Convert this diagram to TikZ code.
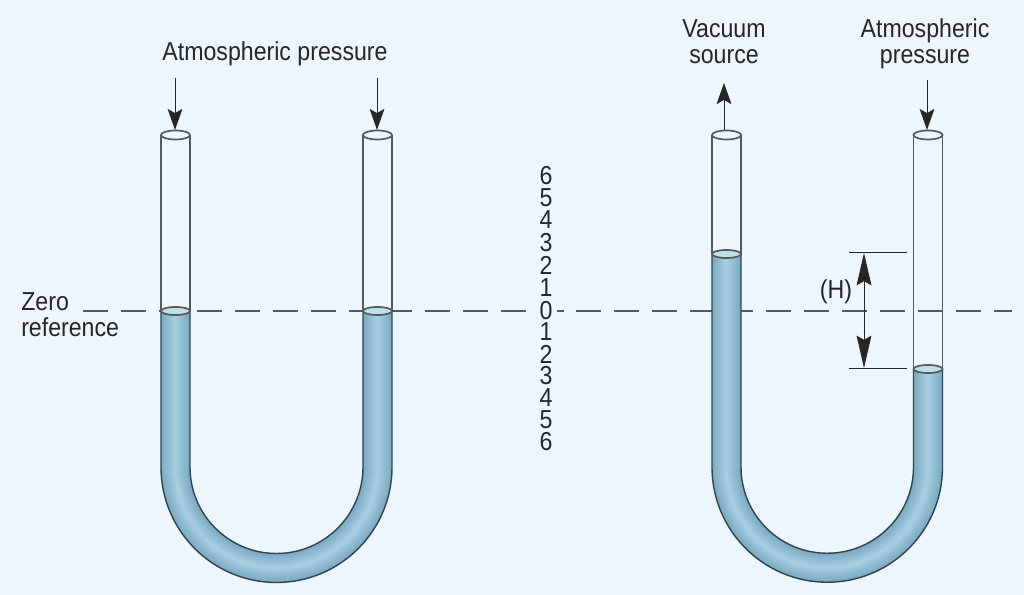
\documentclass[tikz,border=0pt]{standalone}
\usepackage{fontspec}
\setmainfont[FakeStretch=0.89]{Liberation Sans}
\usetikzlibrary{arrows.meta}
\definecolor{paper}{HTML}{EDF5FD}
\definecolor{glass}{HTML}{55595E}
\definecolor{liqedge}{HTML}{7BA9C2}
\definecolor{liqmid}{HTML}{A8D0E2}
\definecolor{liqtop}{HTML}{BFDFE8}
\tikzset{
  label/.style={font=\fontsize{18.5}{18.5}\selectfont,text=black!85,align=center,inner sep=0pt},
  digit/.style={font=\fontsize{18.5}{18.5}\selectfont,text=black!85,inner sep=0pt},
  glassline/.style={draw=glass,line width=1.2pt},
  flow/.style={draw=black!85,line width=0.7pt,-{Stealth[length=15pt,width=10.5pt,inset=3pt]}},
  gauge/.style={draw=black!85,line width=0.7pt,{Stealth[length=23pt,width=10.5pt,inset=3pt]}-{Stealth[length=23pt,width=10.5pt,inset=3pt]}},
}
% u-tube: left centre, right centre, left level, right level
\newcommand{\utube}[4]{
    \pgfmathsetmacro{\rad}{(#2-#1)/2}
    \foreach \i in {0,...,14}{
        \pgfmathsetmacro{\mixp}{\i*100/14}
        \draw[line width={(29-2*\i)*0.711pt},color=liqmid!\mixp!liqedge] (#1,#3) -- (#1,128) arc (180:360:\rad) -- (#2,#4);
    }
    \draw[line width=1pt,draw=black!60!liqedge] (#1-14.5,#3) -- (#1-14.5,128) arc (180:360:\rad+14.5) -- (#2+14.5,#4);
    \draw[line width=1pt,draw=black!60!liqedge] (#1+14.5,#3) -- (#1+14.5,128) arc (180:360:\rad-14.5) -- (#2-14.5,#4);
    \foreach \cx/\lev in {#1/#3,#2/#4}{
        \draw[glassline] (\cx-14.5,460) -- (\cx-14.5,\lev);
        \draw[glassline] (\cx+14.5,460) -- (\cx+14.5,\lev);
        \draw[glassline,fill=paper] (\cx,460) ellipse (14.5 and 4.5);
        \draw[glassline,fill=liqtop] (\cx,\lev) ellipse (14.5 and 4);
    }
}
\begin{document}
\begin{tikzpicture}[x=0.25mm,y=0.25mm]
    \fill[paper] (0,0) rectangle (1024,595);

    % zero line
    \coordinate (zeroL) at (83,284);
    \coordinate (zeroR) at (1012,284);
    \draw[draw=glass,line width=1.2pt,dash pattern=on 17.8pt off 9.2pt] (zeroL) -- (zeroR);

    \utube{175.5}{377.5}{284}{284}
    \utube{726.5}{928}{341}{226}

    % scale
    \foreach \py/\d in {419/6,397/5,375/4,352/3,330/2,307/1,263/1,241/2,219/3,197/4,175/5,153/6}{
        \node[digit] (d\py) at (546,\py) {\d};
    }
    \node[digit,fill=paper,inner xsep=3pt] (d0) at (546,284) {0};

    % labels
    \node[label] (atmL) at (275,541) {Atmospheric pressure};
    \node[label] (vac) at (724,553) {Vacuum\\source};
    \node[label] (atmR) at (925,551) {Atmospheric\\pressure};
    \node[label,align=left,anchor=west] (zero) at (21,280) {Zero\\reference};
    \node[label] (H) at (836,303) {(H)};

    % arrows
    \coordinate (a1) at (175,517);
    \coordinate (a2) at (175,465);
    \coordinate (b1) at (377,517);
    \coordinate (b2) at (377,465);
    \coordinate (c1) at (724,465);
    \coordinate (c2) at (724,512);
    \coordinate (e1) at (927,515);
    \coordinate (e2) at (927,465);
    \draw[flow] (a1) -- (a2);
    \draw[flow] (b1) -- (b2);
    \draw[flow] (c1) -- (c2);
    \draw[flow] (e1) -- (e2);

    % height
    \coordinate (hT) at (864,342);
    \coordinate (hB) at (864,227);
    \draw[gauge] (hT) -- (hB);
    \draw[line width=0.7pt,black!85] (849,342) -- (907,342);
    \draw[line width=0.7pt,black!85] (849,227) -- (907,227);
\end{tikzpicture}
\end{document}
